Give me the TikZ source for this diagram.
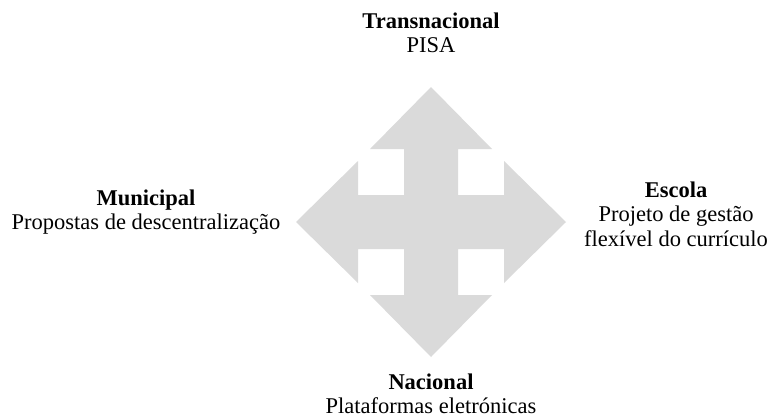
\documentclass[tikz,border=0pt]{standalone}
\usepackage{fontspec}
\setmainfont{Liberation Serif}
\definecolor{cinzaseta}{RGB}{218,218,218}

\begin{document}
\begin{tikzpicture}[x=1pt,y=-1pt,
    rotulo/.style={align=center, font=\fontsize{22.5}{24.5}\selectfont}]
\useasboundingbox (0,0) rectangle (771,418);
	%Seta de quatro pontas
\begin{scope}[shift={(431,222)}]
\fill[cinzaseta] (0,-135) -- (61,-73) -- (27,-73) -- (27,-27) -- (73,-27) -- (73,-61) -- (135,0) %cima e direita
	-- (73,61) -- (73,27) -- (27,27) -- (27,73) -- (61,73) -- (0,135) %baixo
	-- (-61,73) -- (-27,73) -- (-27,27) -- (-73,27) -- (-73,61) -- (-135,0) %esquerda
	-- (-73,-61) -- (-73,-27) -- (-27,-27) -- (-27,-73) -- (-61,-73) -- cycle;
\end{scope}
	%Rotulos
\node[rotulo] (transnacional) at (431,33) {\textbf{Transnacional}\\PISA};
\node[rotulo] (municipal) at (146,212) {\textbf{Municipal}\\Propostas de descentralização};
\node[rotulo] (escola) at (676,214) {\textbf{Escola}\\Projeto de gestão\\flexível do currículo};
\node[rotulo] (nacional) at (431,394) {\textbf{Nacional}\\Plataformas eletrónicas};
\end{tikzpicture}
\end{document}
